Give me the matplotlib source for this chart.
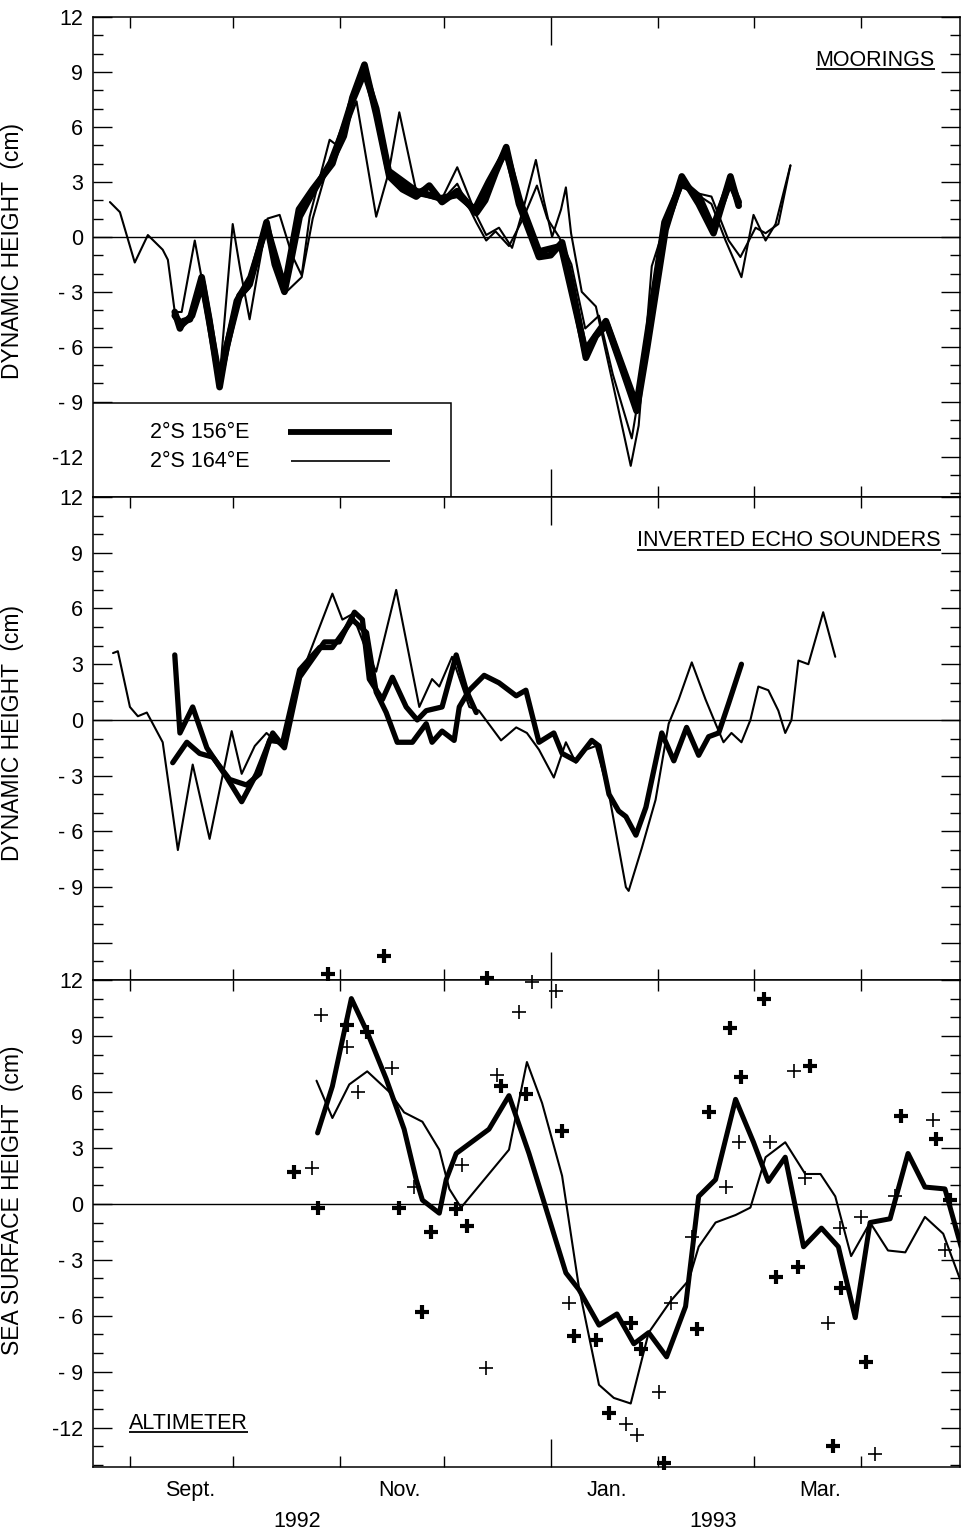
import matplotlib
matplotlib.use("Agg")
import matplotlib.pyplot as plt
import matplotlib.transforms as mtransforms
from matplotlib.patches import Rectangle
from matplotlib.ticker import FixedLocator, FuncFormatter, MultipleLocator

plt.rcParams['font.family'] = ['Liberation Sans', 'DejaVu Sans']
plt.rcParams['lines.solid_joinstyle'] = 'round'
plt.rcParams['lines.solid_capstyle'] = 'round'

# x values: days since 1 September 1992
# ---------------- Panel 1: MOORINGS (dynamic height, cm) ----------------
moor156a_day = [13.0, 14.5, 15.5, 17.4, 20.8, 23.0, 26.0, 28.0, 31.8, 34.7, 37.0, 39.6, 42.0, 44.8,
                47.0, 49.2, 52.9, 58.7, 62.0, 64.5, 68.0, 71.4, 75.2, 79.0, 83.0, 86.8, 90.5, 94.9,
                100.4, 103.0, 106.0, 109.1, 112.8, 118.6, 122.0, 125.3, 128.0, 132.2, 135.1, 138.3,
                142.0, 146.9, 150.0, 155.3, 160.0, 164.9, 169.2, 174.1, 176.5]
moor156a_val = [-4.1, -5.0, -4.6, -4.5, -2.2, -4.5, -8.2, -6.0, -3.2, -2.6, -1.0, 0.8, -1.5, -3.0,
                -1.0, 1.1, 2.4, 4.2, 5.5, 7.6, 9.4, 6.7, 3.3, 2.6, 2.2, 2.8, 1.9, 2.5,
                1.3, 2.0, 3.5, 4.9, 1.8, -1.1, -1.0, -0.3, -2.5, -6.6, -5.4, -4.8,
                -6.8, -9.5, -6.0, 0.4, 3.3, 1.8, 0.2, 3.3, 1.7]

moor156b_day = [13.0, 15.0, 18.0, 21.0, 26.0, 31.0, 35.0, 39.6, 44.8, 49.0, 53.0, 58.7, 64.0, 68.0,
                71.4, 75.0, 83.0, 90.0, 95.0, 100.0, 104.0, 109.0, 113.0, 118.6, 125.0, 132.0,
                138.0, 146.9, 155.0, 160.0, 165.0, 169.0, 174.0, 176.5]
moor156b_val = [-4.3, -4.8, -4.3, -2.5, -7.8, -3.5, -2.2, 0.6, -2.8, 1.5, 2.6, 4.0, 7.2, 9.0,
                7.0, 3.6, 2.5, 2.1, 2.3, 1.5, 3.0, 4.7, 2.0, -0.8, -0.5, -6.2,
                -4.6, -9.2, 0.8, 3.0, 2.2, 0.5, 3.0, 1.9]

moor164a_day = [-5.8, -2.9, 1.4, 5.2, 9.5, 11.0, 13.0, 15.0, 18.8, 22.5, 26.0, 29.8, 32.0, 34.7,
                37.0, 39.9, 43.4, 47.0, 49.8, 52.1, 57.9, 60.7, 65.7, 71.4, 75.0, 78.1, 83.0, 86.8,
                90.5, 94.9, 100.4, 103.3, 107.0, 110.8, 114.0, 117.7, 120.0, 122.4, 125.0, 126.4,
                127.9, 131.0, 135.1, 140.0, 145.2, 147.5, 151.3, 159.1, 162.9, 168.6, 172.7, 177.3,
                180.8, 184.3, 187.2, 191.5]
moor164a_val = [1.9, 1.35, -1.4, 0.1, -0.7, -1.25, -4.1, -4.1, -0.2, -4.0, -7.7, 0.7, -1.8, -4.5,
                -2.0, 1.0, 1.2, -1.0, -2.1, 1.1, 5.3, 4.9, 7.4, 1.1, 3.5, 6.8, 2.5, 2.8,
                2.1, 3.8, 1.2, 0.1, 0.5, -0.6, 1.5, 4.2, 2.0, 0.0, 1.5, 2.7,
                0.2, -3.0, -3.8, -8.0, -12.5, -10.3, -1.6, 3.0, 2.5, 1.8, -0.2, -2.2,
                1.2, -0.2, 0.7, 3.9]

moor164b_day = [13.0, 15.0, 18.0, 20.8, 26.0, 31.8, 34.7, 39.6, 44.8, 49.8, 53.0, 58.0, 64.5, 68.0,
                71.4, 75.2, 83.0, 90.5, 94.9, 100.4, 103.3, 106.0, 109.9, 114.0, 118.0, 121.0,
                124.4, 128.0, 132.0, 136.0, 140.0, 145.5, 149.0, 153.0, 160.0, 164.0, 168.6,
                173.6, 177.0, 181.4, 184.3, 188.0, 191.5]
moor164b_val = [-4.3, -4.9, -4.3, -2.4, -8.0, -3.4, -2.8, 0.9, -3.1, -2.2, 1.0, 4.3, 7.5, 9.3,
                6.8, 3.4, 2.3, 2.0, 2.9, 0.8, -0.2, 0.3, -0.5, 1.0, 2.8, 1.0,
                0.0, -1.5, -5.0, -4.3, -7.5, -11.0, -7.0, -1.0, 2.7, 2.4, 2.2,
                -0.2, -1.1, 0.5, 0.2, 0.7, 3.9]

# ---------------- Panel 2: INVERTED ECHO SOUNDERS ----------------
ies156a_day = [12.4, 16.5, 20.2, 24.0, 28.9, 33.8, 37.6, 40.5, 44.3, 49.2, 55.0, 58.7, 64.5, 68.6,
               71.4, 74.3, 77.5, 81.9, 85.9, 87.6, 90.5, 94.0, 95.5, 98.4, 102.7, 107.0, 112.0,
               114.8, 118.6, 122.9, 125.3, 129.3, 133.9, 136.0, 138.9, 141.7, 143.8, 146.7, 149.6,
               154.2, 157.7, 161.4, 164.9, 167.8, 170.7, 173.6, 177.3]
ies156a_val = [-2.3, -1.2, -1.8, -2.0, -3.2, -3.5, -2.9, -1.1, -1.2, 2.7, 3.9, 3.9, 5.4, 4.7,
               1.5, 0.4, -1.2, -1.2, -0.2, -1.2, -0.6, -1.1, 0.7, 1.6, 2.4, 2.0, 1.3,
               1.6, -1.2, -0.7, -1.8, -2.2, -1.1, -1.4, -4.0, -4.9, -5.2, -6.2, -4.7,
               -0.7, -2.2, -0.4, -1.9, -0.9, -0.7, 0.9, 3.0]

ies156b_day = [13.0, 14.5, 18.2, 22.3, 28.1, 32.4, 36.7, 41.4, 44.8, 49.2, 56.4, 60.7, 65.1, 67.4,
               69.4, 73.2, 76.1, 80.1, 83.3, 85.9, 90.5, 94.6, 97.5, 100.4]
ies156b_val = [3.5, -0.7, 0.7, -1.5, -3.1, -4.4, -2.9, -0.7, -1.5, 2.3, 4.2, 4.2, 5.8, 5.4,
               2.2, 1.1, 2.3, 0.7, 0.0, 0.5, 0.7, 3.5, 1.6, 0.4]

ies164_day = [-4.9, -3.5, 0.0, 2.3, 4.9, 9.5, 13.9, 18.2, 23.1, 29.5, 32.4, 36.2, 39.6, 44.3,
              49.8, 58.7, 61.6, 64.5, 68.0, 71.4, 77.2, 83.9, 87.6, 89.7, 93.4, 98.4, 101.2,
              107.6, 112.0, 115.1, 118.6, 122.9, 126.4, 129.3, 132.2, 135.1, 138.9, 143.8,
              144.6, 148.4, 152.4, 156.2, 159.1, 162.9, 166.9, 169.8, 172.1, 174.4, 177.3,
              179.9, 182.2, 185.1, 188.0, 190.0, 191.8, 193.8, 196.7, 201.0, 204.5]
ies164_val = [3.6, 3.7, 0.7, 0.2, 0.4, -1.2, -7.0, -2.4, -6.4, -0.6, -2.9, -1.4, -0.7, -1.5,
              2.5, 6.8, 5.4, 5.7, 4.0, 2.6, 7.0, 0.7, 2.2, 1.8, 3.4, 0.7, 0.5,
              -1.1, -0.4, -0.7, -1.6, -3.1, -1.2, -2.3, -1.6, -1.4, -4.0, -9.0,
              -9.2, -6.9, -4.3, -0.2, 1.1, 3.1, 1.1, -0.2, -1.2, -0.7, -1.2,
              0.0, 1.8, 1.6, 0.5, -0.7, 0.0, 3.2, 3.0, 5.8, 3.4]

# ---------------- Panel 3: ALTIMETER (sea surface height, cm) ----------------
alt156_day = [54.4, 58.7, 64.2, 68.8, 74.3, 79.5, 83.0, 84.8, 89.7, 91.7, 94.6, 104.1, 109.9, 115.7,
              126.4, 130.2, 136.0, 141.2, 146.1, 150.4, 155.6, 161.1, 164.9, 169.8, 175.6, 180.8,
              185.1, 190.0, 195.3, 200.5, 205.4, 210.3, 214.6, 220.4, 225.6, 230.5, 236.3, 241.0]
alt156_val = [3.8, 6.3, 11.0, 9.2, 6.7, 4.0, 1.3, 0.2, -0.5, 1.3, 2.7, 4.0, 5.8, 2.7,
              -3.7, -4.6, -6.5, -5.9, -7.5, -6.9, -8.2, -5.5, 0.4, 1.3, 5.6, 3.3,
              1.2, 2.5, -2.3, -1.3, -2.3, -6.1, -1.0, -0.8, 2.7, 0.9, 0.8, -2.3]

alt164_day = [54.1, 58.7, 63.6, 68.8, 75.2, 79.5, 84.8, 89.7, 92.6, 96.0, 109.9, 115.1, 119.5, 125.3,
              130.2, 136.0, 140.3, 145.2, 150.4, 156.8, 162.0, 164.9, 169.8, 175.6, 179.9, 184.3,
              190.0, 195.8, 200.2, 204.5, 209.1, 214.6, 219.8, 224.8, 230.5, 235.8, 241.0]
alt164_val = [6.6, 4.6, 6.4, 7.1, 6.0, 4.9, 4.4, 2.9, 0.8, -0.2, 2.9, 7.6, 5.4, 1.5,
              -4.5, -9.7, -10.4, -10.7, -6.9, -5.2, -4.1, -2.3, -1.0, -0.6, -0.2, 2.5,
              3.3, 1.6, 1.6, 0.4, -2.8, -1.0, -2.5, -2.6, -0.7, -1.6, -4.2]

pts156_day = [47.7, 54.4, 57.3, 62.8, 68.8, 73.8, 78.1, 84.8, 87.4, 94.6, 97.8, 103.6, 107.6, 114.8,
              125.3, 128.7, 135.1, 138.8, 145.2, 148.1, 154.8, 164.3, 167.8, 174.1, 177.3, 183.7,
              187.4, 193.8, 197.3, 203.9, 206.2, 213.5, 223.6, 233.7, 237.8]
pts156_val = [1.7, -0.2, 12.3, 9.6, 9.2, 13.3, -0.2, -5.8, -1.5, -0.3, -1.2, 12.1, 6.3, 5.9,
              3.9, -7.1, -7.3, -11.2, -6.4, -7.8, -13.9, -6.7, 4.9, 9.4, 6.8, 11.0,
              -3.9, -3.4, 7.4, -13.0, -4.5, -8.5, 4.7, 3.5, 0.2]

pts164_day = [52.9, 55.5, 62.8, 66.0, 76.1, 82.4, 96.3, 103.3, 106.5, 112.8, 116.6, 123.5, 127.3,
              143.8, 147.0, 153.3, 156.8, 162.9, 172.7, 176.5, 185.7, 192.4, 195.8, 202.5, 205.9,
              212.0, 216.1, 221.9, 232.9, 236.3]
pts164_val = [1.9, 10.1, 8.4, 6.0, 7.3, 0.9, 2.1, -8.8, 6.9, 10.3, 11.9, 11.4, -5.3,
              -11.8, -12.4, -10.1, -5.3, -1.8, 0.9, 3.3, 3.3, 7.1, 1.4, -6.4, -1.3,
              -0.7, -13.4, 0.4, 4.5, -2.5]

legend_labels = ['2°S 156°E', '2°S 164°E']
panel_titles = ['MOORINGS', 'INVERTED ECHO SOUNDERS', 'ALTIMETER']
ylabels = ['DYNAMIC HEIGHT  (cm)', 'DYNAMIC HEIGHT  (cm)', 'SEA SURFACE HEIGHT  (cm)']
month_starts = [0, 30, 61, 91, 122, 153, 181, 212]      # Sep 1 ... Apr 1
year_start_tick = [122]                                  # Jan 1 1993
month_labels = ['Sept.', 'Nov.', 'Jan.', 'Mar.']
month_label_pos = [17.4, 78.1, 138.3, 200.2]
year_labels = ['1992', '1993']
year_label_pos = [48.6, 169.2]

# ---------------- figure ----------------
fig = plt.figure(figsize=(9.63, 15.34), dpi=100)
L, W = 0.0966, 0.9004
ax1 = fig.add_axes([L, 0.6760, W, 0.3129])
ax2 = fig.add_axes([L, 0.3611, W, 0.3149])
ax3 = fig.add_axes([L, 0.0437, W, 0.3175])
axes = [ax1, ax2, ax3]
ylims = [(-14.2, 12), (-14.0, 12), (-14.1, 12)]
XLIM = (-10.7, 240.7)


def yfmt(v, pos, skip=()):
    iv = int(round(v))
    if iv in skip:
        return ''
    if iv < 0:
        return f'- {abs(iv)}' if abs(iv) < 10 else f'-{abs(iv)}'
    return f'{iv}'


for i, ax in enumerate(axes):
    ax.set_xlim(*XLIM)
    ax.set_ylim(*ylims[i])
    ax.axhline(0, color='black', lw=1.0, zorder=1)
    ax.yaxis.set_major_locator(MultipleLocator(3))
    ax.yaxis.set_minor_locator(MultipleLocator(1))
    skip = (-12,) if i == 1 else ()
    ax.yaxis.set_major_formatter(FuncFormatter(lambda v, p, s=skip: yfmt(v, p, s)))
    ax.tick_params(axis='y', which='both', direction='in', left=True, right=True,
                   labelsize=15.5, pad=7, width=1.0)
    ax.tick_params(axis='y', which='major', length=14)
    ax.tick_params(axis='y', which='minor', length=7)
    ax.xaxis.set_major_locator(FixedLocator(year_start_tick))
    ax.xaxis.set_minor_locator(FixedLocator([m for m in month_starts if m not in year_start_tick]))
    ax.tick_params(axis='x', which='both', direction='in', top=True, bottom=True,
                   labelbottom=False, width=1.0)
    ax.tick_params(axis='x', which='major', length=20)
    ax.tick_params(axis='x', which='minor', length=8)
    for s in ax.spines.values():
        s.set_linewidth(1.1)
    ax.set_ylabel(ylabels[i], fontsize=16.5)
    ax.yaxis.set_label_coords(-0.080, [0.512, 0.511, 0.548][i])

# panel 1
THICK1, THIN1 = 4.8, 1.5
ax1.plot(moor164a_day, moor164a_val, color='black', lw=THIN1, zorder=3)
ax1.plot(moor164b_day, moor164b_val, color='black', lw=THIN1, zorder=3)
ax1.plot(moor156b_day, moor156b_val, color='black', lw=THICK1, zorder=4)
ax1.plot(moor156a_day, moor156a_val, color='black', lw=THICK1, zorder=4)

# legend box (lower-left of panel 1)
blend = mtransforms.blended_transform_factory(ax1.transAxes, ax1.transData)
ax1.add_patch(Rectangle((0, ylims[0][0]), 0.413, -9.06 - ylims[0][0], transform=blend,
                        facecolor='white', edgecolor='black', lw=1.1, zorder=5))
ax1.text(0.0657, 0.135, legend_labels[0], transform=ax1.transAxes, fontsize=15.5,
         va='center', ha='left', zorder=6)
ax1.text(0.0657, 0.075, legend_labels[1], transform=ax1.transAxes, fontsize=15.5,
         va='center', ha='left', zorder=6)
ax1.plot([0.225, 0.345], [0.135, 0.135], transform=ax1.transAxes, color='black', lw=4.2,
         zorder=6, solid_capstyle='butt')
ax1.plot([0.228, 0.343], [0.075, 0.075], transform=ax1.transAxes, color='black', lw=1.2,
         zorder=6, solid_capstyle='butt')

# panel 2
ax2.plot(ies164_day, ies164_val, color='black', lw=1.5, zorder=3)
ax2.plot(ies156b_day, ies156b_val, color='black', lw=3.8, zorder=4)
ax2.plot(ies156a_day, ies156a_val, color='black', lw=3.8, zorder=4)

# panel 3
ax3.plot(alt164_day, alt164_val, color='black', lw=1.5, zorder=3)
ax3.plot(alt156_day, alt156_val, color='black', lw=3.6, zorder=4)
ax3.plot(pts164_day, pts164_val, linestyle='none', marker='+', color='black',
         markersize=9.5, markeredgewidth=1.2, clip_on=False, zorder=5)
ax3.plot(pts156_day, pts156_val, linestyle='none', marker='+', color='black',
         markersize=10.5, markeredgewidth=3.0, clip_on=False, zorder=5)

# month / year labels
bx = mtransforms.blended_transform_factory(ax3.transData, ax3.transAxes)
for lab, pos in zip(month_labels, month_label_pos):
    ax3.text(pos, -0.048, lab, transform=bx, ha='center', va='center', fontsize=15.5)
for lab, pos in zip(year_labels, year_label_pos):
    ax3.text(pos, -0.111, lab, transform=bx, ha='center', va='center', fontsize=15.5)

# underlined panel titles
title_pos = [(ax1, 0.902, 0.910), (ax2, 0.803, 0.909), (ax3, 0.110, 0.090)]
title_texts = []
for (ax, x, y), t in zip(title_pos, panel_titles):
    title_texts.append(ax.text(x, y, t, transform=ax.transAxes, ha='center', va='center',
                               fontsize=15.5, zorder=6))

fig.canvas.draw()
renderer = fig.canvas.get_renderer()
for (ax, x, y), txt in zip(title_pos, title_texts):
    bb = txt.get_window_extent(renderer)
    inv = ax.transAxes.inverted()
    (x0, y0), (x1, y1) = inv.transform([(bb.x0, bb.y0), (bb.x1, bb.y1)])
    ax.plot([x0, x1], [y0 + 0.004, y0 + 0.004], transform=ax.transAxes, color='black',
            lw=1.3, clip_on=False, zorder=6, solid_capstyle='butt')

fig.savefig('out.png', dpi=100)
